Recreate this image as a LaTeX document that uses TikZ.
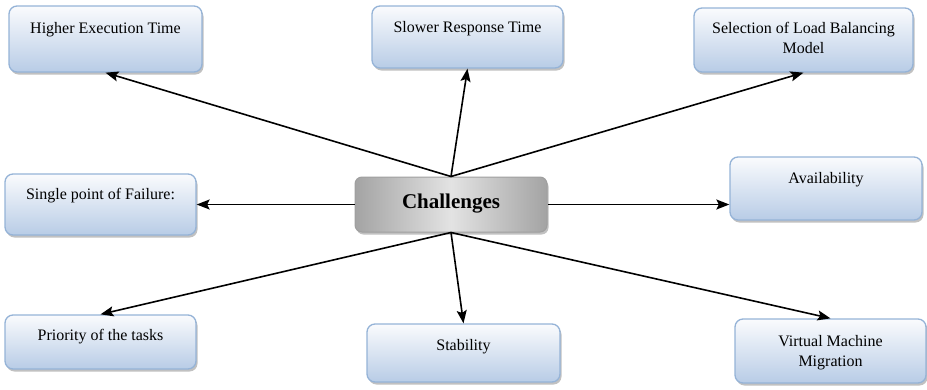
\documentclass[tikz,border=0pt]{standalone}
\usepackage{fontspec}
\setmainfont{Liberation Serif}
\usetikzlibrary{shadows,arrows.meta}
\definecolor{boxedge}{RGB}{149,179,215}
\definecolor{boxbot}{RGB}{184,204,230}
\definecolor{boxtop}{RGB}{250,251,253}
\begin{document}
\begin{tikzpicture}[x=1pt,y=-1pt,
  cbox/.style={draw=boxedge, line width=1.3pt, rounded corners=8pt,
    top color=boxtop, bottom color=boxbot, inner sep=0pt,
    drop shadow={opacity=0.35, shadow xshift=1.5pt, shadow yshift=-2.5pt, fill=black!70}},
  hub/.style={draw=gray!75, line width=1pt, rounded corners=7pt,
    left color=gray!72, right color=gray!72, middle color=gray!22, inner sep=0pt,
    drop shadow={opacity=0.35, shadow xshift=1.5pt, shadow yshift=-2.5pt, fill=black!70}},
  txt/.style={anchor=base, inner sep=0pt, align=center, font=\fontsize{16}{19.5}\selectfont},
  arr/.style={line width=1.6pt, -{Stealth[length=13pt,width=10pt,inset=2.5pt]}}
]
\useasboundingbox (0,0) rectangle (927,389);

% boxes
\node[cbox, minimum width=193pt, minimum height=66pt] (het) at (105.5,39) {};
\node[cbox, minimum width=191pt, minimum height=62pt] (srt) at (467.5,37) {};
\node[cbox, minimum width=219pt, minimum height=64pt] (sel) at (803.5,40) {};
\node[cbox, minimum width=191pt, minimum height=61pt] (spf) at (100.5,204.5) {};
\node[cbox, minimum width=192pt, minimum height=63pt] (ava) at (826,188.5) {};
\node[cbox, minimum width=191pt, minimum height=54pt] (pri) at (100.5,342) {};
\node[cbox, minimum width=193pt, minimum height=58pt] (sta) at (463.5,353) {};
\node[cbox, minimum width=191pt, minimum height=64pt] (vmm) at (830.5,351) {};
\node[hub, minimum width=192pt, minimum height=55pt] (ch) at (451,204.5) {};

% connectors
\draw[arr] (ch.north) -- (het.south);
\draw[arr] (ch.north) -- (srt.south);
\draw[arr] (ch.north) -- (sel.south);
\draw[arr] (ch.west) -- (spf.east);
\draw[arr] (ch.east) -- (ch.east -| ava.west);
\draw[arr] (ch.south) -- (pri.north);
\draw[arr] (ch.south) -- (sta.north);
\draw[arr] (ch.south) -- (vmm.north);

% texts
\node[txt] (het-t) at (105.5,33) {Higher Execution Time};
\node[txt] (srt-t) at (467.5,32) {Slower Response Time};
\node[txt] (sel-t) at (803.5,53) {Selection of Load Balancing\\Model};
\node[txt] (spf-t) at (100.5,199) {Single point of Failure:};
\node[txt] (ava-t) at (826,183) {Availability};
\node[txt] (pri-t) at (100.5,340) {Priority of the tasks};
\node[txt] (sta-t) at (463.5,350) {Stability};
\node[txt] (vmm-t) at (830.5,366) {Virtual Machine\\Migration};
\node[txt, font=\fontsize{21}{24}\selectfont\bfseries] (ch-t) at (451,208) {Challenges};
\end{tikzpicture}
\end{document}
